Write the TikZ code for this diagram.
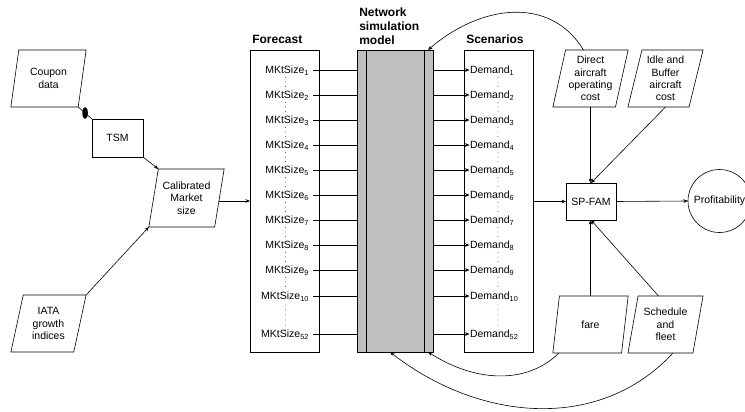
\documentclass[tikz,border=0pt]{standalone}
\usepackage{fontspec}
\setmainfont{Liberation Sans}
\usetikzlibrary{shapes.geometric,arrows.meta}
\definecolor{netgray}{RGB}{192,192,192}
\begin{document}
\begin{tikzpicture}[x=1pt,y=-1pt,
  line width=0.6pt,
  every node/.style={font=\fontsize{10.5}{12.3}\selectfont},
  arr/.style={-{Stealth[length=4.5pt,width=3.6pt]}},
  para/.style={draw, trapezium, trapezium left angle=76, trapezium right angle=104,
    trapezium stretches=true, minimum width=75.5pt, minimum height=57pt,
    inner sep=0pt, outer sep=0pt, align=center},
  box/.style={draw, rectangle, inner sep=0pt, outer sep=0pt},
  hdr/.style={font=\bfseries\fontsize{12}{14}\selectfont, inner sep=0pt, align=left},
  lab/.style={inner sep=0pt, outer sep=0pt},
  blob/.style={fill, ellipse, inner sep=0pt, minimum width=5.5pt, minimum height=12pt},
  dotmark/.style={fill=black}
]
\useasboundingbox (0,0) rectangle (745,412);

% left inputs
\node[para] (coupon) at (48.5,78.5) {Coupon\\data};
\node[box, minimum width=51pt, minimum height=38pt] (tsm) at (117.5,138) {TSM};
\node[para, minimum height=58pt] (cal) at (186.5,198) {Calibrated\\Market\\size};
\node[para] (iata) at (48.5,323.5) {IATA\\growth\\indices};

% columns
\node[box, minimum width=69pt, minimum height=302pt] (fc) at (284.5,201) {};
\node[box, fill=netgray, minimum width=76pt, minimum height=302pt] (net) at (395,201) {};
\node[box, minimum width=69pt, minimum height=302pt] (sc) at (498.5,201) {};
\draw ([xshift=9pt]net.north west) -- ([xshift=9pt]net.south west);
\draw ([xshift=-9pt]net.north east) -- ([xshift=-9pt]net.south east);

% headers
\node[hdr, anchor=base west] (fch) at (252,44) {Forecast};
\node[hdr, anchor=north west] (neth) at (359,7.4) {Network\\simulation\\model};
\node[hdr, anchor=base west] (sch) at (466,44) {Scenarios};

% right side
\node[para] (direct) at (590.5,78.5) {Direct\\aircraft\\operating\\cost};
\node[para] (idle) at (665.5,78.5) {Idle and\\Buffer\\aircraft\\cost};
\node[box, minimum width=50pt, minimum height=37pt] (spfam) at (591,201.5) {SP-FAM};
\node[draw, circle, minimum size=63pt, inner sep=0pt, outer sep=0pt] (prof) at (719.5,201) {Profitability};
\node[para] (fare) at (590.5,324.5) {fare};
\node[para] (sched) at (665.5,324.5) {Schedule\\and\\fleet};

% rows
\foreach \i/\y in {1/70,2/95,3/120,4/145,5/170,6/195,7/220,8/245,9/270,10/296,52/334}{
  \coordinate (r\i) at (0,\y);
  \node[lab, anchor=base east] (m\i) at (309,\y+3.75) {MKtSize\textsubscript{\i}};
  \node[lab, anchor=base west] (d\i) at (470,\y+3.75) {Demand\textsubscript{\i}};
  \draw ([xshift=4pt]m\i.east |- r\i) -- (net.west |- r\i);
  \draw[arr] (net.east |- r\i) -- ([xshift=-0.5pt]d\i.west |- r\i);
}
% dots
\foreach \y in {70,95,120,145,170,195,220,245,270}{
  \foreach \k in {7.5,12,16.5}{
    \fill[dotmark] (285.5,\y+\k) circle (0.45pt);
    \fill[dotmark] (498,\y+\k) circle (0.45pt);
  }
}
\foreach \y in {305,310,315,320,325,330}{
  \fill[dotmark] (285.5,\y) circle (0.45pt);
  \fill[dotmark] (498,\y) circle (0.45pt);
}

% left connectors
\draw (coupon.bottom right corner) -- node[blob] (cb) {} (tsm.north west);
\draw[arr] (tsm.south east) -- (cal.top left corner);
\draw[arr] (iata.top right corner) -- (cal.bottom left corner);
\draw[arr] ([yshift=-3pt]cal.east) -- ([yshift=-3pt]cal.east -| fc.west);

% right connectors
\draw[arr] (sc.east |- spfam) -- (spfam.west);
\draw[arr] (spfam.east) -- (prof.west);
\draw[arr] (direct.south) -- (direct.south |- spfam.north);
\draw[arr] (idle.south) -- (spfam.north);
\draw[arr] (direct.south |- fare.north) -- (direct.south |- spfam.south);
\draw[arr] ([xshift=-7pt]sched.north) -- (spfam.south);

% feedback curves
\draw[arr] ([xshift=-7pt]direct.north) .. controls (550,-5) and (480,5) .. ([xshift=-5pt]net.north east);
\draw[arr] ([xshift=6pt]fare.bottom left corner) .. controls (530,382) and (480,385) .. ([xshift=-5pt]net.south east);
\draw[arr] ([xshift=7.5pt]sched.south) .. controls (600,432) and (480,422) .. ([xshift=-5pt]net.south);
\end{tikzpicture}
\end{document}
